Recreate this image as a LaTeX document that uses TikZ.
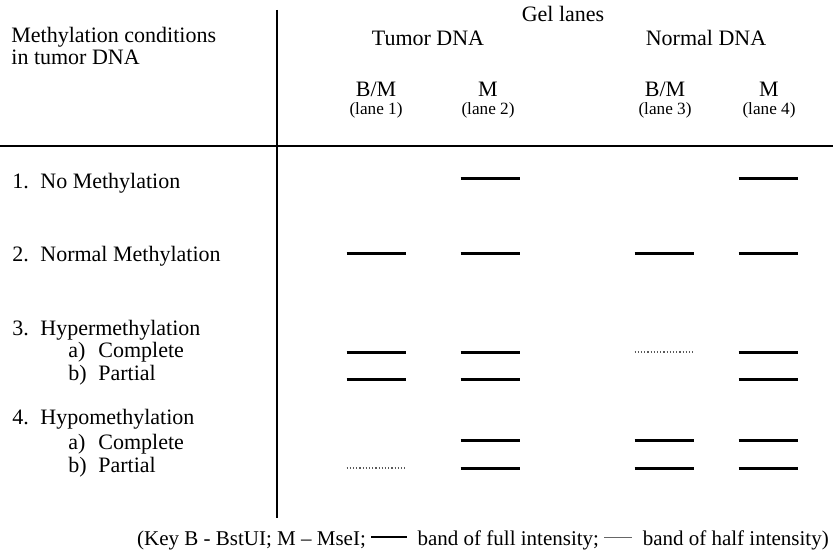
\documentclass[tikz,border=0pt]{standalone}
\usepackage{fontspec}
\setmainfont{Liberation Serif}
\usetikzlibrary{positioning}

% key symbols for the two band intensities
\newcommand{\fullkey}{\rule[0.32em]{18pt}{1pt}}
\newcommand{\halfkey}{{\color{black!60}\rule[0.32em]{14pt}{0.4pt}}}

\begin{document}
\begin{tikzpicture}[
  x=0.5pt, y=-0.5pt,
  font=\fontsize{11}{13}\selectfont,
  head/.style={anchor=base, inner sep=0pt},
  lanesub/.style={inner sep=0pt, font=\fontsize{8.6}{10}\selectfont},
  rowlabel/.style={anchor=base west, inner sep=0pt},
  fullband/.style={line width=1.5pt},
  halfband/.style={line width=0.6pt, black!65, densely dotted},
  rule/.style={line width=0.8pt}
]
\useasboundingbox (0,0) rectangle (833,556);

% table rules
\coordinate (vtop) at (277,10);
\coordinate (vbot) at (277,518);
\coordinate (hleft) at (0,146);
\coordinate (hright) at (833,146);
\draw[rule] (vtop) -- (vbot);
\draw[rule] (hleft) -- (hright);

% column headings
\node[rowlabel] (cond) at (11,43) {Methylation conditions};
\node[rowlabel] (cond2) at (11,65) {in tumor DNA};
\node[head] (gel) at (563,22) {Gel lanes};
\node[head] (tumor) at (428,46) {Tumor DNA};
\node[head] (normal) at (706,46) {Normal DNA};

\node[head] (lane1) at (376,97) {B/M};
\node[head] (lane2) at (488,97) {M};
\node[head] (lane3) at (665,97) {B/M};
\node[head] (lane4) at (769,97) {M};
\foreach \i in {1,...,4}
  \node[lanesub, below=2.5pt of lane\i] (sub\i) {(lane \i)};

% methylation conditions
\node[rowlabel] (row1) at (12,188) {\makebox[14pt][l]{1.}No Methylation};
\node[rowlabel] (row2) at (12,261) {\makebox[14pt][l]{2.}Normal Methylation};
\node[rowlabel] (row3) at (12,335) {\makebox[14pt][l]{3.}Hypermethylation};
\node[rowlabel] (row3a) at (68,357) {\makebox[15pt][l]{a)}Complete};
\node[rowlabel] (row3b) at (68,380) {\makebox[15pt][l]{b)}Partial};
\node[rowlabel] (row4) at (12,424) {\makebox[14pt][l]{4.}Hypomethylation};
\node[rowlabel] (row4a) at (68,449) {\makebox[15pt][l]{a)}Complete};
\node[rowlabel] (row4b) at (68,472) {\makebox[15pt][l]{b)}Partial};

% bands: lane centre / height
\foreach \x/\y in {490/178, 768/178,
                   376/253, 490/253, 664/253, 768/253,
                   376/352, 490/352, 768/352,
                   376/379, 490/379, 768/379,
                   490/440, 664/440, 768/440,
                   490/468, 664/468, 768/468}
  \draw[fullband] (\x-29.5,\y) -- (\x+29.5,\y);
\foreach \x/\y in {664/352, 376/468}
  \draw[halfband] (\x-29.5,\y) -- (\x+29.5,\y);

% key
\node[head, font=\fontsize{10.5}{12}\selectfont] (key) at (483,545)
  {(Key B - BstUI; M -- MseI; \fullkey\ \ band of full intensity; \halfkey\ \ band of half intensity)};
\end{tikzpicture}
\end{document}
